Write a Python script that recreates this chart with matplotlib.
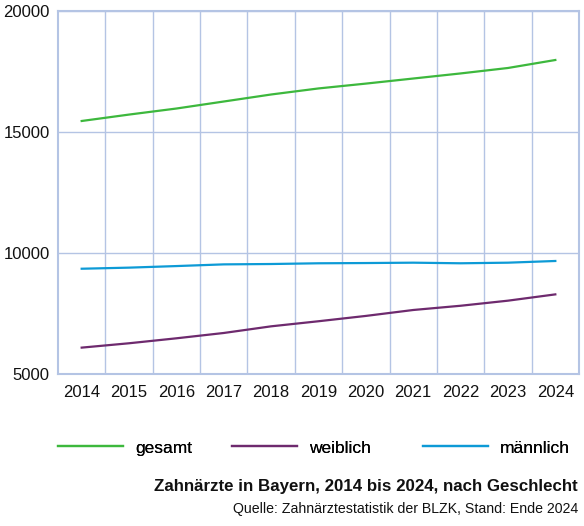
import matplotlib
matplotlib.use("Agg")
import matplotlib.pyplot as plt
from matplotlib.ticker import FixedLocator

plt.rcParams['font.family'] = ['Liberation Sans', 'DejaVu Sans']

years = [2014, 2015, 2016, 2017, 2018, 2019, 2020, 2021, 2022, 2023, 2024]
gesamt = [15455, 15720, 15970, 16260, 16550, 16800, 17000, 17210, 17420, 17645, 17975]
weiblich = [6090, 6270, 6475, 6695, 6970, 7180, 7400, 7645, 7820, 8030, 8290]
maennlich = [9350, 9395, 9460, 9530, 9545, 9575, 9585, 9600, 9575, 9600, 9670]
yticks = [5000, 10000, 15000, 20000]
labels = ["gesamt", "weiblich", "männlich"]

title = "Zahnärzte in Bayern, 2014 bis 2024, nach Geschlecht"
source = "Quelle: Zahnärztestatistik der BLZK, Stand: Ende 2024"

c_green = "#3db83d"
c_purple = "#6e2a6e"
c_blue = "#0d9ad6"
c_grid = "#b4c4e4"

fig = plt.figure(figsize=(5.84, 5.26), dpi=100)
ax = fig.add_axes([58/584, 1-374/526, (579-58)/584, (374-11)/526])

l1, = ax.plot(years, gesamt, color=c_green, lw=1.6)
l2, = ax.plot(years, weiblich, color=c_purple, lw=1.6)
l3, = ax.plot(years, maennlich, color=c_blue, lw=1.6)

ax.set_xlim(years[0]-0.5, years[-1]+0.5)
ax.set_ylim(5000, 20000)
ax.set_yticks(yticks)
ax.set_xticks(years)
ax.xaxis.set_minor_locator(FixedLocator([y + 0.5 for y in years[:-1]]))
ax.grid(True, which='minor', axis='x', color=c_grid, lw=1)
ax.grid(True, which='major', axis='y', color=c_grid, lw=1)
ax.tick_params(axis='both', which='both', length=0)
ax.tick_params(axis='x', which='major', pad=8, labelsize=12, labelcolor="#111111")
ax.tick_params(axis='y', which='major', pad=6, labelsize=12, labelcolor="#111111")
for s in ax.spines.values():
    s.set_color(c_grid)
    s.set_linewidth(1.5)
ax.set_axisbelow(True)

for handle, lab, x0 in zip([l1, l2, l3], labels, [58, 232, 423]):
    lg = fig.legend([handle], [lab], loc='center left',
                    bbox_to_anchor=(x0/584, 1-448/526), frameon=False,
                    fontsize=12.5, handlelength=3.74, handletextpad=0.69,
                    borderpad=0, borderaxespad=0)
    fig.add_artist(lg)

fig.text(578/584, 1-486/526, title, ha='right', va='center', fontsize=12.2,
         fontweight='bold', color="#111111")
fig.text(578/584, 1-509/526, source, ha='right', va='center', fontsize=10.2,
         color="#111111")

fig.savefig("out.png", dpi=100)
